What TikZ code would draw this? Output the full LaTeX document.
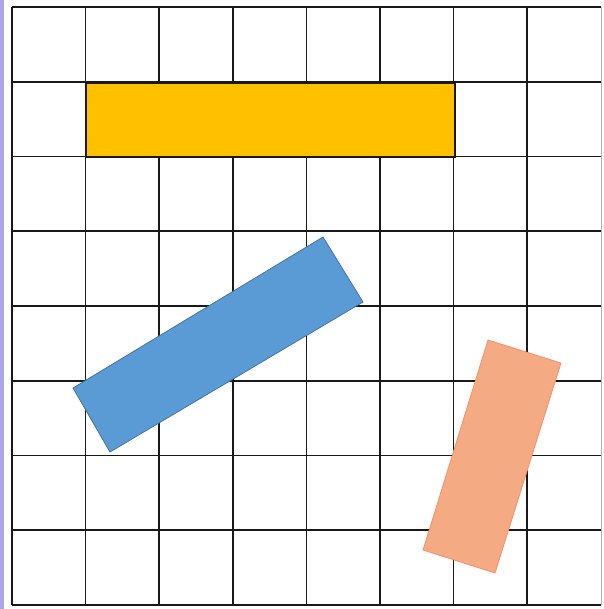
\documentclass[tikz,border=0pt]{standalone}
\usetikzlibrary{calc}
\definecolor{gridblack}{RGB}{25,25,25}
\definecolor{sidebar}{RGB}{172,168,232}
\definecolor{baryellow}{RGB}{255,192,0}
\definecolor{barblue}{RGB}{91,155,213}
\definecolor{barsalmon}{RGB}{244,170,130}

\begin{document}
\begin{tikzpicture}[x=1pt, y=-1pt,
  gridline/.style={draw=gridblack, line width=1.6pt},
  piece/.style={line width=0.8pt, line join=round}
]
  \useasboundingbox (0,0) rectangle (603,609);
  \fill[white] (0,0) rectangle (603,609);
  \fill[sidebar] (0,0) rectangle (4,609);

  % grid
  \foreach \i in {0,...,7}
    \draw[gridline] ({12+73.6*\i},7) -- ({12+73.6*\i},605);
  \foreach \j in {0,...,8}
    \draw[gridline] (12,{7+74.75*\j}) -- (601,{7+74.75*\j});
  \draw[line width=1pt, draw=gray!60] (601,7) -- (601,605);

  % pieces
  \draw[gridline, fill=baryellow] (86,83) rectangle (455,157);
  \draw[piece, fill=barblue, draw=barblue!75!black]
    (73,388) -- (323,237) -- (363,302) -- (110,452) -- cycle;
  \draw[piece, fill=barsalmon, draw=barsalmon!85!red]
    (488,340) -- (561,363) -- (495,573) -- (423,550) -- cycle;
\end{tikzpicture}
\end{document}
